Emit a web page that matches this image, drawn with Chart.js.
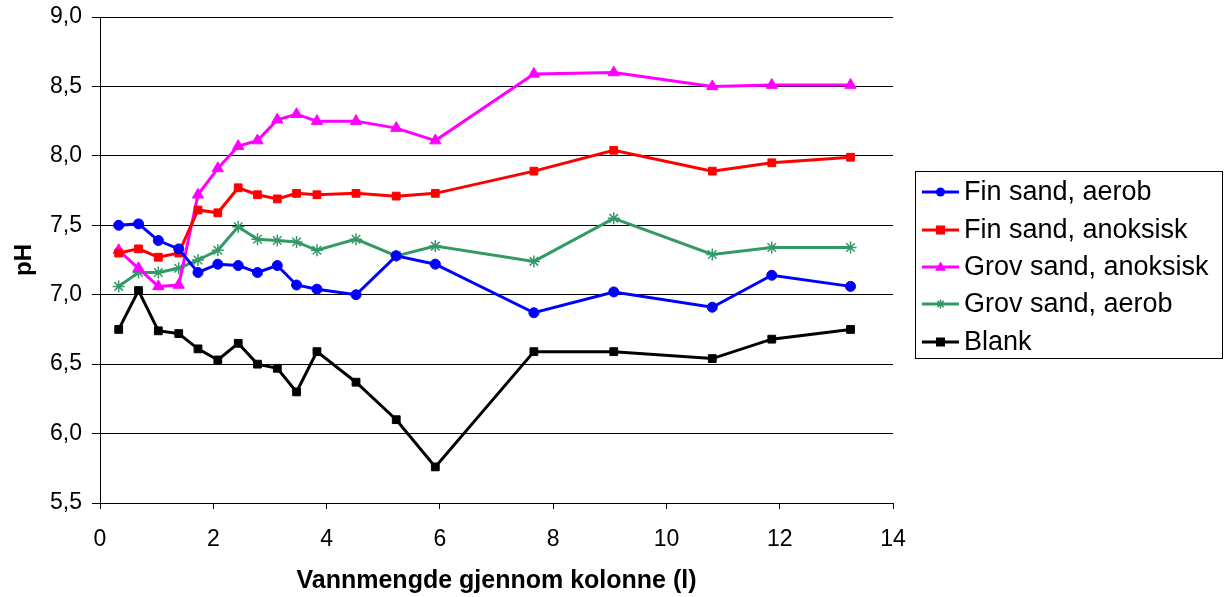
<!DOCTYPE html>
<html>
<head>
<meta charset="utf-8">
<script src="https://cdn.jsdelivr.net/npm/chart.js@4/dist/chart.umd.min.js"></script>
<style>
  html, body { margin: 0; padding: 0; background: #fff; }
  #wrap { width: 1228px; height: 597px; }
</style>
</head>
<body>
<div id="wrap"><canvas id="phChart" width="1228" height="597"></canvas></div>
<script>
// Vannmengde (l) for hvert prøvepunkt
var vannmengde = [0.33, 0.68, 1.03, 1.39, 1.73, 2.08, 2.44, 2.78, 3.13, 3.47, 3.83, 4.52, 5.23, 5.92, 7.66, 9.07, 10.81, 11.86, 13.25];

// pH-verdier per serie
var finAerob     = [7.50, 7.51, 7.39, 7.33, 7.16, 7.22, 7.21, 7.16, 7.21, 7.07, 7.04, 7.00, 7.28, 7.22, 6.87, 7.02, 6.91, 7.14, 7.06];
var finAnoksisk  = [7.30, 7.33, 7.27, 7.30, 7.61, 7.59, 7.77, 7.72, 7.69, 7.73, 7.72, 7.73, 7.71, 7.73, 7.89, 8.04, 7.89, 7.95, 7.99];
var grovAnoksisk = [7.32, 7.19, 7.06, 7.07, 7.72, 7.91, 8.07, 8.11, 8.26, 8.30, 8.25, 8.25, 8.20, 8.11, 8.59, 8.60, 8.50, 8.51, 8.51];
var grovAerob    = [7.06, 7.16, 7.16, 7.19, 7.25, 7.32, 7.49, 7.40, 7.39, 7.38, 7.32, 7.40, 7.28, 7.35, 7.24, 7.55, 7.29, 7.34, 7.34];
var blank        = [6.75, 7.03, 6.74, 6.72, 6.61, 6.53, 6.65, 6.50, 6.47, 6.30, 6.59, 6.37, 6.10, 5.76, 6.59, 6.59, 6.54, 6.68, 6.75];

var serieNavn = ['Fin sand, aerob', 'Fin sand, anoksisk', 'Grov sand, anoksisk', 'Grov sand, aerob', 'Blank'];
var yTicks = [5.5, 6.0, 6.5, 7.0, 7.5, 8.0, 8.5, 9.0];
var xTicks = [0, 2, 4, 6, 8, 10, 12, 14];

var FONT = '"Liberation Sans", Arial, sans-serif';

function punkter(verdier) {
    return vannmengde.map(function(x, i) { return { x: x, y: verdier[i] }; });
}

var serier = [
    { data: finAerob,     farge: '#0000ff', stil: 'circle',   radius: 5 },
    { data: finAnoksisk,  farge: '#ff0000', stil: 'rect',     radius: 5.5 },
    { data: grovAnoksisk, farge: '#ff00ff', stil: 'triangle', radius: 6.5 },
    { data: grovAerob,    farge: '#339966', stil: 'star',     radius: 6 },
    { data: blank,        farge: '#000000', stil: 'rect',     radius: 5.5 }
];

var datasets = serier.map(function(s, i) {
    return {
        label: serieNavn[i],
        data: punkter(s.data),
        showLine: true,
        borderColor: s.farge,
        backgroundColor: s.farge,
        borderWidth: 3,
        pointStyle: s.stil,
        pointRadius: s.radius,
        pointHoverRadius: s.radius,
        pointBackgroundColor: s.farge,
        pointBorderColor: s.farge,
        pointBorderWidth: s.stil === 'star' ? 1.5 : 1
    };
});

// Tegner en markør i forklaringen
function tegnMarkor(ctx, stil, x, y, r, farge) {
    ctx.save();
    ctx.fillStyle = farge;
    ctx.strokeStyle = farge;
    ctx.lineWidth = 1.5;
    ctx.beginPath();
    if (stil === 'circle') {
        ctx.arc(x, y, r, 0, Math.PI * 2);
        ctx.fill();
    } else if (stil === 'rect') {
        ctx.fillRect(x - r, y - r, r * 2, r * 2);
    } else if (stil === 'triangle') {
        ctx.moveTo(x, y - r);
        ctx.lineTo(x + r, y + r * 0.7);
        ctx.lineTo(x - r, y + r * 0.7);
        ctx.closePath();
        ctx.fill();
    } else if (stil === 'star') {
        ctx.moveTo(x, y - r); ctx.lineTo(x, y + r);
        ctx.moveTo(x - r, y); ctx.lineTo(x + r, y);
        var d = r * 0.7;
        ctx.moveTo(x - d, y - d); ctx.lineTo(x + d, y + d);
        ctx.moveTo(x - d, y + d); ctx.lineTo(x + d, y - d);
        ctx.stroke();
    }
    ctx.restore();
}

var forklaring = {
    id: 'forklaring',
    afterDraw: function(chart) {
        var ctx = chart.ctx;
        ctx.save();
        ctx.strokeStyle = '#000';
        ctx.lineWidth = 1;
        ctx.strokeRect(915.5, 171.5, 307, 187);
        ctx.font = '27px ' + FONT;
        ctx.textBaseline = 'middle';
        ctx.fillStyle = '#000';
        var rader = [192, 230, 267, 304, 342];
        serier.forEach(function(s, i) {
            var y = rader[i];
            ctx.strokeStyle = s.farge;
            ctx.lineWidth = 3;
            ctx.beginPath();
            ctx.moveTo(922, y);
            ctx.lineTo(959, y);
            ctx.stroke();
            tegnMarkor(ctx, s.stil, 940.5, y, s.stil === 'triangle' ? 5.5 : 4.5, s.farge);
            ctx.fillStyle = '#000';
            ctx.fillText(serieNavn[i], 964, y + 1);
        });
        ctx.restore();
    }
};

var ctxPh = document.getElementById('phChart').getContext('2d');
new Chart(ctxPh, {
    type: 'scatter',
    data: { datasets: datasets },
    options: {
        responsive: false,
        animation: false,
        events: [],
        layout: { padding: { top: 17, right: 335, left: 0, bottom: 0 } },
        plugins: {
            legend: { display: false },
            tooltip: { enabled: false }
        },
        scales: {
            x: {
                type: 'linear',
                min: 0,
                max: 14,
                afterFit: function(scale) { scale.height = 94; },
                afterBuildTicks: function(scale) {
                    scale.ticks = xTicks.map(function(v) { return { value: v }; });
                },
                ticks: {
                    color: '#000',
                    padding: 17,
                    font: { family: FONT, size: 23 },
                    callback: function(v) { return v; }
                },
                grid: {
                    drawOnChartArea: false,
                    drawTicks: true,
                    tickLength: 6,
                    color: '#000'
                },
                border: { display: true, color: '#000', width: 1 },
                title: {
                    display: true,
                    text: 'Vannmengde gjennom kolonne (l)',
                    color: '#000',
                    font: { family: FONT, size: 25, weight: 'bold' },
                    padding: { top: 10, bottom: 1 }
                }
            },
            y: {
                type: 'linear',
                min: 5.5,
                max: 9,
                afterFit: function(scale) {
                    scale.width = 100;
                    scale.paddingTop = 0;
                },
                afterBuildTicks: function(scale) {
                    scale.ticks = yTicks.map(function(v) { return { value: v }; });
                },
                ticks: {
                    color: '#000',
                    padding: 10,
                    font: { family: FONT, size: 23 },
                    callback: function(v) { return v.toFixed(1).replace('.', ','); }
                },
                grid: {
                    color: '#000',
                    lineWidth: 1,
                    drawTicks: true,
                    tickLength: 8
                },
                border: { display: true, color: '#000', width: 1 },
                title: {
                    display: true,
                    text: 'pH',
                    color: '#000',
                    font: { family: FONT, size: 24, weight: 'bold' },
                    padding: { top: 10, bottom: 4 }
                }
            }
        }
    },
    plugins: [forklaring]
});
</script>
</body>
</html>
